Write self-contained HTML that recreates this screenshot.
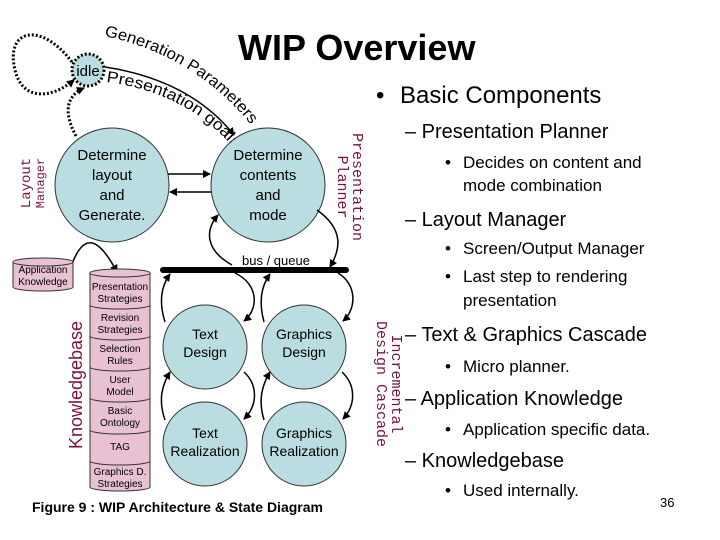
<!DOCTYPE html>
<html><head><meta charset="utf-8"><style>
html,body{margin:0;padding:0;background:#fff}
svg{display:block}
</style></head><body>
<svg width="720" height="540" viewBox="0 0 720 540" xmlns="http://www.w3.org/2000/svg" font-family="Liberation Sans, sans-serif">
<defs>
<marker id="a" markerWidth="8" markerHeight="8" refX="7" refY="4" orient="auto" markerUnits="userSpaceOnUse"><path d="M0,0 L8,4 L0,8 z" fill="#000"/></marker>
<path id="p1" d="M104,36 Q195,55 252,126"/>
<path id="p2" d="M106,82 Q185,92 232,146"/>
</defs>
<text x="238" y="60" font-size="36" font-weight="bold">WIP Overview</text>

<!-- idle loops -->
<path d="M72,62 C40,20 5,30 15,70 C22,100 50,100 74,80" fill="none" stroke="#000" stroke-width="3" stroke-dasharray="2,2" marker-end="url(#a)"/>
<path d="M76,136 C62,110 68,95 84,88" fill="none" stroke="#000" stroke-width="3" stroke-dasharray="2,2" marker-end="url(#a)"/>
<circle cx="88" cy="70" r="16" fill="#b9dde0" stroke="#000" stroke-width="3" stroke-dasharray="2,2"/>
<text x="88" y="76" font-size="15" text-anchor="middle">idle</text>
<path d="M105,67 Q190,80 234,135" fill="none" stroke="#000" stroke-width="1.5" marker-end="url(#a)"/>
<text font-size="16"><textPath href="#p1" textLength="175" lengthAdjust="spacingAndGlyphs">Generation Parameters</textPath></text>
<text font-size="16"><textPath href="#p2" textLength="148" lengthAdjust="spacingAndGlyphs">Presentation goals</textPath></text>

<!-- big circles -->
<circle cx="112" cy="185" r="57" fill="#b9dde0" stroke="#333" stroke-width="1"/>
<circle cx="268" cy="185" r="57" fill="#b9dde0" stroke="#333" stroke-width="1"/>
<g font-size="15" text-anchor="middle">
<text x="112" y="160">Determine</text><text x="112" y="180">layout</text><text x="112" y="200">and</text><text x="112" y="220">Generate.</text>
<text x="268" y="160">Determine</text><text x="268" y="180">contents</text><text x="268" y="200">and</text><text x="268" y="220">mode</text>
</g>
<line x1="168" y1="174" x2="210" y2="174" stroke="#000" stroke-width="1.5" marker-end="url(#a)"/>
<line x1="211" y1="192" x2="170" y2="192" stroke="#000" stroke-width="1.5" marker-end="url(#a)"/>

<g fill="#7a1040" font-family="Liberation Mono, monospace">
<text transform="translate(30,183) rotate(-90)" font-size="14" text-anchor="middle">Layout</text>
<text transform="translate(44,183) rotate(-90)" font-size="12" text-anchor="middle">Manager</text>
<text transform="translate(353,187) rotate(90)" font-size="15" text-anchor="middle">Presentation</text>
<text transform="translate(338,187) rotate(90)" font-size="15" text-anchor="middle">Planner</text>
<text transform="translate(392,384) rotate(90)" font-size="15" text-anchor="middle">Incremental</text>
<text transform="translate(377,384) rotate(90)" font-size="15" text-anchor="middle">Design Cascade</text>
</g>
<text transform="translate(82,385) rotate(-90)" font-size="18" text-anchor="middle" fill="#7a1040">Knowledgebase</text>

<!-- bus -->
<text x="242" y="265" font-size="13">bus / queue</text>
<line x1="163" y1="270" x2="346" y2="270" stroke="#000" stroke-width="6" stroke-linecap="round"/>
<path d="M317,210 C345,230 340,250 330,267" fill="none" stroke="#000" stroke-width="1.5" marker-end="url(#a)"/>
<path d="M232,265 C205,250 205,230 218,215" fill="none" stroke="#000" stroke-width="1.5" marker-end="url(#a)"/>

<!-- app knowledge -->
<path d="M72,264 C85,230 100,240 117,272" fill="none" stroke="#000" stroke-width="1.5" marker-end="url(#a)"/>
<path d="M13,262 v25 a30,4 0 0 0 60,0 v-25" fill="#e8c2d2" stroke="#333"/>
<ellipse cx="43" cy="262" rx="30" ry="4" fill="#e8c2d2" stroke="#333"/>
<text x="43" y="273" font-size="10" text-anchor="middle">Application</text>
<text x="43" y="285" font-size="10" text-anchor="middle">Knowledge</text>

<!-- KB stack -->
<g fill="#e8c2d2" stroke="#333">
<path d="M90,273 V487 a30,4 0 0 0 60,0 V273" />
<ellipse cx="120" cy="273" rx="30" ry="4"/>
</g>
<g fill="none" stroke="#333">
<path d="M90,305 a30,4 0 0 0 60,0"/><path d="M90,336 a30,4 0 0 0 60,0"/><path d="M90,367 a30,4 0 0 0 60,0"/><path d="M90,398 a30,4 0 0 0 60,0"/><path d="M90,430 a30,4 0 0 0 60,0"/><path d="M90,461 a30,4 0 0 0 60,0"/>
</g>
<g font-size="10" text-anchor="middle">
<text x="120" y="290">Presentation</text><text x="120" y="302">Strategies</text>
<text x="120" y="321">Revision</text><text x="120" y="333">Strategies</text>
<text x="120" y="352">Selection</text><text x="120" y="364">Rules</text>
<text x="120" y="383">User</text><text x="120" y="395">Model</text>
<text x="120" y="414">Basic</text><text x="120" y="426">Ontology</text>
<text x="120" y="450">TAG</text>
<text x="120" y="475">Graphics D.</text><text x="120" y="487">Strategies</text>
</g>

<!-- cascade -->
<g fill="#b9dde0" stroke="#333">
<circle cx="205" cy="347" r="42"/><circle cx="304" cy="347" r="42"/>
<circle cx="205" cy="444" r="42"/><circle cx="304" cy="444" r="42"/>
</g>
<g font-size="14" text-anchor="middle">
<text x="205" y="339">Text</text><text x="205" y="357">Design</text>
<text x="304" y="339">Graphics</text><text x="304" y="357">Design</text>
<text x="205" y="438">Text</text><text x="205" y="456">Realization</text>
<text x="304" y="438">Graphics</text><text x="304" y="456">Realization</text>
</g>
<g fill="none" stroke="#000" stroke-width="1.5" marker-end="url(#a)">
<path d="M165,322 C158,300 162,285 170,274"/>
<path d="M235,273 C260,285 258,310 244,321"/>
<path d="M264,322 C258,300 262,285 270,274"/>
<path d="M338,273 C358,285 356,310 343,321"/>
<path d="M165,420 C158,400 162,385 170,372"/>
<path d="M244,372 C258,385 258,405 244,419"/>
<path d="M264,420 C258,400 262,385 270,372"/>
<path d="M342,372 C356,385 356,405 343,419"/>
</g>
<text x="32" y="512" font-size="14" font-weight="bold">Figure 9 : WIP Architecture &amp; State Diagram</text>

<!-- right text -->
<text x="376" y="103" font-size="24">•</text><text x="400" y="103" font-size="24">Basic Components</text>
<g font-size="20">
<text x="405" y="138">– Presentation Planner</text>
<text x="405" y="226">– Layout Manager</text>
<text x="405" y="341">– Text &amp; Graphics Cascade</text>
<text x="405" y="405">– Application Knowledge</text>
<text x="405" y="467">– Knowledgebase</text>
</g>
<g font-size="17">
<text x="445" y="168">•</text><text x="463" y="168">Decides on content and</text><text x="463" y="191">mode combination</text>
<text x="445" y="254">•</text><text x="463" y="254">Screen/Output Manager</text>
<text x="445" y="282">•</text><text x="463" y="282">Last step to rendering</text><text x="463" y="306">presentation</text>
<text x="445" y="372">•</text><text x="463" y="372">Micro planner.</text>
<text x="445" y="435">•</text><text x="463" y="435">Application specific data.</text>
<text x="445" y="496">•</text><text x="463" y="496">Used internally.</text>
</g>
<text x="660" y="507" font-size="13">36</text>
</svg>
</body></html>
